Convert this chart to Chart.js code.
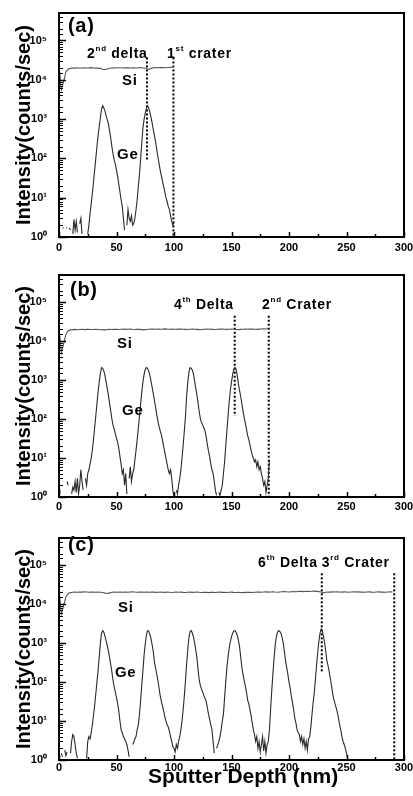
<!DOCTYPE html>
<html><head><meta charset="utf-8">
<script src="https://cdn.jsdelivr.net/npm/chart.js@4"></script>
<style>
html,body{margin:0;padding:0;background:#fff;}
#wrap{position:relative;width:413px;height:796px;overflow:hidden;}
canvas{position:absolute;left:0;}
</style></head><body>
<div id="wrap">
<canvas id="ca" width="413" height="260" style="top:0px"></canvas>
<canvas id="cb" width="413" height="260" style="top:260px"></canvas>
<canvas id="cc" width="413" height="276" style="top:520px"></canvas>
</div>
<script>
// ---------- tick labels ----------
const xTickValues = [0, 50, 100, 150, 200, 250, 300];
const xTickLabels = ['0', '50', '100', '150', '200', '250', '300'];
const yTickValues = [1, 10, 100, 1000, 10000, 100000];
const yTickLabels = ['10\u2070', '10\u00B9', '10\u00B2', '10\u00B3', '10\u2074', '10\u2075'];

// sampling grid of the depth profiles (nm between samples)
const SI_STEP = 2;
const GE_STEP = 1;

// ---------- panel (a) ----------
const siA = [
 25000, 5500, 9000, 16000, 18500, 19500, 20000, 19800, 20200, 19700,
 20000, 20300, 19900, 20100, 20400, 20000, 19800, 19900, 19500, 18500,
 18000, 18800, 19600, 20000, 20100, 19900, 20200, 20300, 20000, 20100,
 20200, 19900, 20300, 20100, 20000, 20400, 20200, 20000, 19400, 18300,
 19500, 20300, 20500, 20200, 20400, 20600, 20300, 20500, 20700, 21000,
 21500];
const geA = [
 1.7, 1.7, null, 1.7, 1.7, null, 1.7, 1.7, null, 1.7,
 1.5, null, 1.2, 2.8, 1.5, 2.5, 1.3, null, 2.2, 3,
 1.2, null, null, null, null, 1.2, 2, 4, 7, 13,
 25, 50, 100, 200, 380, 650, 1100, 1800, 2200, 1900,
 1600, 1200, 950, 750, 500, 330, 200, 130, 90, 70,
 50, 35, 22, 14, 9, 6, 3, 1.5, null, 2,
 5, 3, 2.5, 3.5, 2, 2.2, 3, 5, 9, 20,
 40, 100, 250, 600, 1000, 1400, 1900, 2200, 1900, 1500,
 1100, 800, 550, 380, 260, 170, 110, 75, 50, 36,
 26, 19, 14, 10, 8, 6, 5, 3.5, 2.5, 2,
 2.5];
// marker lines: [depth, top value, bottom value]
const markA1 = [76.5, 37000, 90];
const markA2 = [99.5, 37000, 1];

// ---------- panel (b) ----------
const siB = [
 25000, 5000, 8500, 15000, 18500, 19500, 19800, 20100, 19700, 20000,
 20200, 19800, 20100, 20300, 19900, 20000, 20200, 19900, 19600, 19800,
 19500, 19900, 20200, 20000, 20300, 20100, 19900, 20200, 20400, 20100,
 20300, 20500, 20200, 20000, 20300, 20100, 19800, 19500, 19900, 20200,
 20400, 20600, 20300, 20500, 20200, 20400, 20700, 20400, 20200, 20500,
 20300, 20100, 20400, 20600, 20300, 20100, 19900, 20200, 20400, 20300,
 20100, 19800, 20000, 20300, 20500, 20200, 20400, 20100, 19900, 20200,
 20400, 20600, 20300, 20100, 20300, 20500, 20200, 20000, 19800, 20100,
 20300, 20500, 20200, 20400, 20600, 20300, 20100, 20400, 20600, 20800,
 20500, 20900];
const geB = [
 2, 1.3, null, null, null, null, null, 2.5, 2, null,
 null, 1.2, 1.8, 1.5, 2.5, 1.3, 3, 1.2, 2, 5,
 2.5, 1.5, null, 3, 2, 4, 5, 7, 10, 16,
 30, 60, 120, 250, 500, 900, 1500, 2100, 2000, 1700,
 1300, 900, 600, 400, 250, 160, 100, 70, 55, 42,
 32, 25, 18, 11, 7, 4, 5, 2, 4, 1.2,
 null, 3, 6, 2.5, 4, 5, 9, 16, 30, 60,
 120, 250, 500, 900, 1400, 1900, 2100, 2000, 1700, 1300,
 950, 650, 450, 300, 200, 130, 90, 65, 50, 40,
 28, 20, 14, 10, 7, 5, 4, 5, 3, 1.5,
 1, null, 1.5, 1.2, 2, 3, 5, 10, 22, 50,
 120, 400, 900, 1600, 2100, 2000, 1800, 1400, 900, 600,
 400, 250, 150, 100, 80, 70, 60, 50, 35, 22,
 15, 11, 7, 5, 4, 2.5, 1.5, 1.1, null, 1.3,
 1.1, 1.5, 2, 4, 8, 20, 50, 120, 280, 550,
 900, 1400, 1900, 2100, 1900, 1300, 800, 550, 380, 250,
 160, 110, 80, 55, 38, 30, 22, 16, 12, 10,
 8, 9, 6, 8, 5, 6, 4, 3, 2, 2.5,
 1.3, 2, 3, 9];
const markB1 = [152.8, 45000, 120];
const markB2 = [182.4, 45000, 1];

// ---------- panel (c) ----------
const siC = [
 25000, 5500, 9000, 15500, 18500, 19800, 20300, 20500, 20200, 20600,
 20400, 20700, 20500, 20300, 20600, 20400, 20200, 20500, 20300, 20000,
 19200, 18800, 19500, 20200, 20500, 20300, 20600, 20400, 20200, 20500,
 20300, 20600, 20800, 20500, 20300, 20600, 20400, 20200, 20500, 20300,
 20600, 20400, 20100, 20300, 20500, 20300, 20100, 20400, 20200, 20000,
 20300, 20500, 20200, 20400, 20100, 19900, 20200, 20400, 20100, 20300,
 20500, 20200, 20000, 20300, 20100, 19800, 20100, 20300, 20000, 20200,
 20400, 20100, 20300, 20000, 20200, 20400, 20100, 19900, 20200, 20000,
 19800, 20100, 20300, 20100, 19900, 20200, 20400, 20600, 20300, 20500,
 20700, 20400, 20600, 20800, 20500, 20300, 20600, 20900, 21100, 20800,
 20600, 20900, 21200, 20900, 21100, 21300, 21000, 21200, 21500, 21200,
 21400, 21600, 21300, 21000, 20500, 19500, 20200, 20600, 20400, 20700,
 20500, 20800, 20600, 20400, 20700, 20500, 20300, 20600, 20800, 20500,
 20700, 20400, 20600, 20300, 20500, 20700, 20400, 20200, 20500, 20700,
 20400, 20600, 20300, 20500, 20700, 20500];
const geC = [
 null, null, 1.5, 1.2, null, 1.8, 1.3, 1.6, null, null,
 1.5, 3, 4.5, 4, 2.5, 1.5, 1.1, null, null, null,
 null, null, null, null, 1.1, 3, 4, 3.5, 5, 8,
 14, 25, 50, 100, 200, 450, 1000, 1800, 2100, 1900,
 1500, 1150, 850, 630, 420, 280, 180, 110, 75, 55,
 40, 28, 18, 10, 6, 5, 4, 3.5, 3, 2.5,
 1.8, 1.2, null, null, 2.5, 2.8, 3.5, 4, 6, 8,
 15, 35, 87, 200, 500, 950, 1600, 2100, 2000, 1700,
 1300, 900, 600, 320, 230, 160, 110, 70, 45, 32,
 24, 18, 13, 10, 8, 7, 5.5, 4, 3, 2.2,
 2, 1.6, 2.5, 2, 3, 4, 6, 10, 20, 45,
 110, 300, 700, 1400, 2000, 2100, 1800, 1400, 1000, 650,
 400, 200, 110, 80, 65, 55, 45, 38, 32, 22,
 15, 11, 8, 6, 3, 1.5, null, 2, 2.4, 3,
 4, 6, 10, 15, 40, 100, 240, 450, 750, 1100,
 1450, 1800, 2050, 2100, 1900, 1600, 1200, 800, 450, 240,
 160, 110, 80, 55, 35, 28, 20, 14, 9, 6,
 4.5, 3, 4, 2, 3, 1.6, 2.5, 4, 1.7, 3,
 1.5, 2.5, 3, 6, 20, 60, 160, 400, 900, 1450,
 1900, 2100, 2000, 1800, 1400, 1000, 600, 350, 240, 160,
 100, 70, 45, 30, 20, 12, 9, 6, 5, 4.5,
 3, 4, 2.5, 3.5, 2, 3, 1.8, 3.5, 4, 7,
 15, 30, 54, 120, 280, 590, 1100, 1800, 2300, 2000,
 1500, 1000, 600, 350, 260, 180, 120, 80, 50, 36,
 28, 22, 17, 12, 8, 6, 4, 3, 2.5, 2,
 1.5, 1.1];
const markC1 = [228.5, 62000, 180];
const markC2 = [291.5, 62000, 1];

// ---------- drawing helpers ----------
const FONT = '"Liberation Sans", Arial, Helvetica, sans-serif';
const SUP = 'sup';

function drawRich(ctx, x, y, parts, size) {
  let cx = x;
  ctx.textBaseline = 'middle';
  ctx.textAlign = 'left';
  if ('letterSpacing' in ctx) ctx.letterSpacing = '0.7px';
  for (const p of parts) {
    const isSup = p[1] === SUP;
    const fs = isSup ? Math.round(size * 0.6) : size;
    ctx.font = 'bold ' + fs + 'px ' + FONT;
    const yy = isSup ? y - size * 0.38 : y;
    ctx.fillText(p[0], cx, yy);
    cx += ctx.measureText(p[0]).width;
  }
  if ('letterSpacing' in ctx) ctx.letterSpacing = '0px';
}

const framePlugin = {
  id: 'frame',
  afterDraw(chart, args, opts) {
    const {ctx, chartArea: a, scales: {x, y}} = chart;
    ctx.save();
    ctx.strokeStyle = '#000';
    ctx.fillStyle = '#000';
    ctx.lineWidth = 1;
    // inward ticks on the left axis
    y.ticks.forEach(t => {
      const p = Math.round(y.getPixelForValue(t.value)) + 0.5;
      const major = yTickValues.indexOf(t.value) >= 0;
      const len = major ? 7 : 4;
      ctx.lineWidth = major ? 1.5 : 1;
      ctx.beginPath(); ctx.moveTo(a.left, p); ctx.lineTo(a.left + len, p); ctx.stroke();
    });
    // inward ticks on the bottom axis
    x.ticks.forEach(t => {
      const p = Math.round(x.getPixelForValue(t.value)) + 0.5;
      const major = xTickValues.indexOf(t.value) >= 0;
      const len = major ? 5 : 3;
      ctx.lineWidth = 1.5;
      ctx.beginPath(); ctx.moveTo(p, a.bottom); ctx.lineTo(p, a.bottom - len); ctx.stroke();
    });
    // frame
    ctx.lineWidth = 2;
    ctx.strokeRect(a.left, a.top, a.right - a.left, a.bottom - a.top);
    // text labels (positions in data coordinates)
    (opts.labels || []).forEach(l => {
      drawRich(ctx, x.getPixelForValue(l.x), y.getPixelForValue(l.y), l.parts, l.size);
    });
    ctx.restore();
  }
};

function series(values, step) {
  return values.map((v, i) => ({x: i * step, y: v}));
}
function marker(m) {
  return [{x: m[0], y: m[1]}, {x: m[0], y: m[2]}];
}

function makeChart(id, cfg) {
  const tickFont = {family: FONT, weight: 'bold', size: 11};
  return new Chart(document.getElementById(id), {
    type: 'line',
    data: {
      datasets: [
        {data: series(cfg.si, SI_STEP), borderColor: '#555', borderWidth: 1.1},
        {data: series(cfg.ge, GE_STEP), borderColor: '#2a2a2a', borderWidth: 1.1},
        {data: marker(cfg.m1), borderColor: '#000', borderWidth: 2, borderDash: [2, 2]},
        {data: marker(cfg.m2), borderColor: '#000', borderWidth: 2, borderDash: [2, 2]}
      ]
    },
    options: {
      responsive: false,
      animation: false,
      devicePixelRatio: 1,
      spanGaps: false,
      layout: {padding: {top: cfg.top, right: 9, left: 0, bottom: 0}},
      elements: {point: {radius: 0, hoverRadius: 0}, line: {tension: 0}},
      plugins: {
        legend: {display: false},
        tooltip: {enabled: false},
        frame: {labels: cfg.labels}
      },
      events: [],
      scales: {
        x: {
          type: 'linear', min: 0, max: 300,
          grid: {display: false, drawTicks: false},
          border: {display: false},
          ticks: {
            stepSize: 25, autoSkip: false, maxRotation: 0, color: '#000',
            font: tickFont, padding: cfg.xpad,
            callback: v => { const i = xTickValues.indexOf(v); return i >= 0 ? xTickLabels[i] : ''; }
          },
          title: {
            display: !!cfg.xTitle, text: '    Sputter Depth (nm)', color: '#000',
            font: {family: FONT, weight: 'bold', size: 21, lineHeight: 1.2},
            padding: {top: 0, bottom: 6}
          },
          afterFit(s) { s.height = cfg.xh; s.paddingLeft = 0; s.paddingRight = 0; }
        },
        y: {
          type: 'logarithmic', min: 1, max: 500000,
          grid: {display: false, drawTicks: false},
          border: {display: false},
          ticks: {
            autoSkip: false, color: '#000', font: {family: FONT, weight: 'bold', size: 11}, padding: 12,
            callback: v => { const i = yTickValues.indexOf(v); return i >= 0 ? yTickLabels[i] : ''; }
          },
          title: {
            display: true, text: 'Intensity(counts/sec)', color: '#000',
            font: {family: FONT, weight: 'bold', size: 20, lineHeight: 1.2},
            padding: {top: 12, bottom: 0}
          },
          afterFit(s) { s.width = 59; s.paddingTop = 0; s.paddingBottom = 0; }
        }
      }
    },
    plugins: [framePlugin]
  });
}

makeChart('ca', {
  si: siA, ge: geA, m1: markA1, m2: markA2, top: 13, xh: 23, xpad: 4,
  labels: [
    {x: 7.8, y: 230000, parts: [['(a)']], size: 20},
    {x: 24.4, y: 44000, parts: [['2'], ['nd', SUP], [' delta']], size: 14},
    {x: 94, y: 44000, parts: [['1'], ['st', SUP], [' crater']], size: 14},
    {x: 54.8, y: 9500, parts: [['Si']], size: 15},
    {x: 50.5, y: 120, parts: [['Ge']], size: 15}
  ]
});
makeChart('cb', {
  si: siB, ge: geB, m1: markB1, m2: markB2, top: 15, xh: 23, xpad: 3,
  labels: [
    {x: 9.6, y: 195000, parts: [['(b)']], size: 20},
    {x: 100, y: 83000, parts: [['4'], ['th', SUP], [' Delta']], size: 14},
    {x: 176.6, y: 83000, parts: [['2'], ['nd', SUP], [' Crater']], size: 14},
    {x: 50.5, y: 8300, parts: [['Si']], size: 15},
    {x: 54.8, y: 160, parts: [['Ge']], size: 15}
  ]
});
makeChart('cc', {
  si: siC, ge: geC, m1: markC1, m2: markC2, top: 18, xh: 36, xpad: 1, xTitle: true,
  labels: [
    {x: 7.8, y: 320000, parts: [['(c)']], size: 20},
    {x: 173, y: 110000, parts: [['6'], ['th', SUP], [' Delta']], size: 14},
    {x: 228.5, y: 110000, parts: [['3'], ['rd', SUP], [' Crater']], size: 14},
    {x: 51.3, y: 7900, parts: [['Si']], size: 15},
    {x: 48.7, y: 170, parts: [['Ge']], size: 15}
  ]
});
</script>
</body></html>
